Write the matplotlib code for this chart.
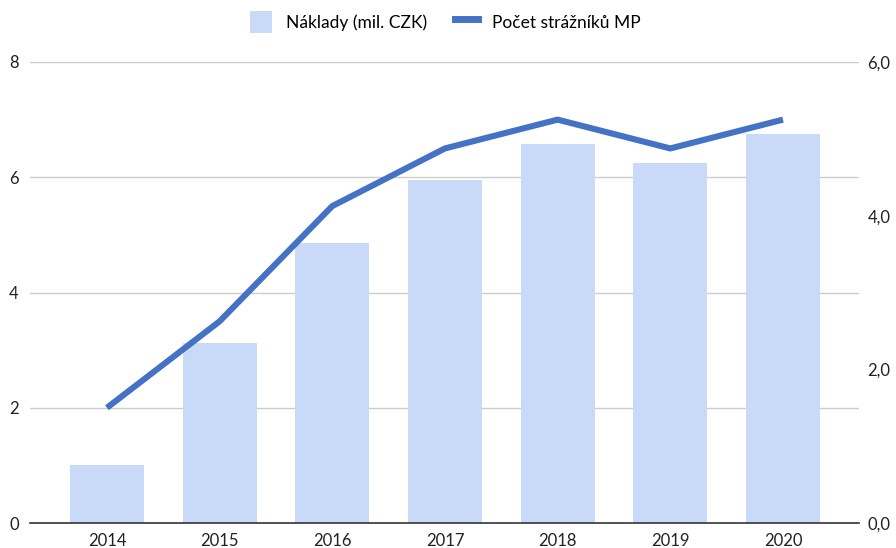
import matplotlib
matplotlib.use("Agg")
import matplotlib.pyplot as plt
from matplotlib.lines import Line2D
from matplotlib.patches import Patch
import numpy as np

years = ["2014", "2015", "2016", "2017", "2018", "2019", "2020"]
naklady = [0.75, 2.34, 3.65, 4.47, 4.93, 4.68, 5.06]   # right axis
straznici = [2.0, 3.5, 5.5, 6.5, 7.0, 6.5, 7.0]        # left axis
left_ticks = [0, 2, 4, 6, 8]
right_ticks = [0, 2, 4, 6]
right_labels = ["0,0", "2,0", "4,0", "6,0"]

plt.rcParams['font.family'] = ['Lato', 'DejaVu Sans']

W, H = 896, 548
fig = plt.figure(figsize=(W/100, H/100), dpi=100)
ax = fig.add_axes([30/W, (H-523)/H, (859-30)/W, (523-62)/H])
ax2 = ax.twinx()

x = np.arange(len(years))
bar_color = "#C9DAF8"
line_color = "#4472C4"

ax.set_zorder(ax2.get_zorder() + 1)
ax.patch.set_visible(False)

ax2.bar(x, naklady, width=0.655, color=bar_color, zorder=2)
ax.plot(x, straznici, color=line_color, lw=4.4, solid_capstyle='butt', zorder=3)

ax.set_xlim(-0.683, 6.675)
ax.set_ylim(0, 8)
ax2.set_ylim(0, 6)
ax.set_yticks(left_ticks)
ax.set_yticklabels([str(t) for t in left_ticks])
ax2.set_yticks(right_ticks)
ax2.set_yticklabels(right_labels)
ax.set_xticks(x)
ax.set_xticklabels(years)

for a in (ax, ax2):
    for s in ["top", "left", "right"]:
        a.spines[s].set_visible(False)
    a.tick_params(length=0, labelsize=12, colors="#222222")
ax2.spines["bottom"].set_visible(False)
ax.spines["bottom"].set_color("#333333")
ax.spines["bottom"].set_linewidth(1.2)
ax.tick_params(axis='y', pad=8)
ax2.tick_params(axis='y', pad=6)
ax.tick_params(axis='x', pad=7)

for t in left_ticks[1:]:
    ax2.axhline(t * 6 / 8, color="#CCCCCC", lw=1, zorder=0)

handles = [Patch(facecolor=bar_color, edgecolor='none', label="Náklady (mil. CZK)"),
           Line2D([], [], color=line_color, lw=5, label="Počet strážníků MP")]
fig.legend(handles=handles, loc='center', bbox_to_anchor=(445/W, 1 - 22/H), ncol=2,
           frameon=False, fontsize=12.5, handlelength=1.3, handleheight=1.6,
           columnspacing=1.6, handletextpad=0.8)

fig.savefig("out.png", dpi=100)
